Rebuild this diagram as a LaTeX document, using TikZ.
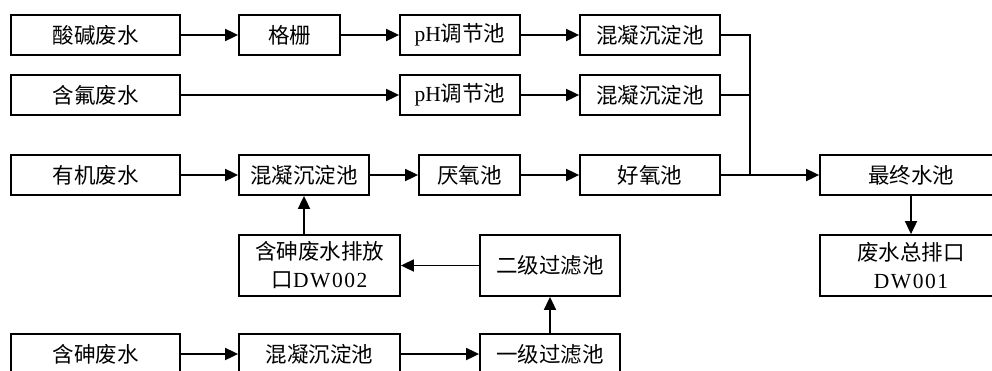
\documentclass[tikz,border=0pt]{standalone}
\usepackage{fontspec}
\setmainfont{Liberation Serif}
\newfontfamily\cjk{Noto Sans CJK SC}
\usetikzlibrary{arrows.meta}
\begin{document}
\begin{tikzpicture}[x=1pt,y=-1pt,
  box/.style={draw,line width=1.8pt,inner sep=0pt,align=center,font=\fontsize{21.5}{28}\selectfont},
  flow/.style={line width=1.8pt,-{Triangle[length=13pt,width=12pt]}},
  pipe/.style={line width=1.8pt}]
\useasboundingbox (0,0) rectangle (992,370);
\clip (0,0) rectangle (992,370);
% row 1
\node[box,minimum width=169pt,minimum height=40pt] (a1) at (95.5,35) {\cjk 酸碱废水};
\node[box,minimum width=101pt,minimum height=40pt] (a2) at (289.5,35) {\cjk 格栅};
\node[box,minimum width=120pt,minimum height=40pt] (a3) at (460,35) {pH{\cjk 调节池}};
\node[box,minimum width=140pt,minimum height=40pt] (a4) at (650,35) {\cjk 混凝沉淀池};
% row 2
\node[box,minimum width=169pt,minimum height=40pt] (b1) at (95.5,95) {\cjk 含氟废水};
\node[box,minimum width=120pt,minimum height=40pt] (b3) at (460,95) {pH{\cjk 调节池}};
\node[box,minimum width=140pt,minimum height=40pt] (b4) at (650,95) {\cjk 混凝沉淀池};
% row 3
\node[box,minimum width=169pt,minimum height=40pt] (c1) at (95.5,175) {\cjk 有机废水};
\node[box,minimum width=130pt,minimum height=40pt] (c2) at (304,175) {\cjk 混凝沉淀池};
\node[box,minimum width=101pt,minimum height=40pt] (c3) at (469.5,175) {\cjk 厌氧池};
\node[box,minimum width=140pt,minimum height=40pt] (c4) at (650,175) {\cjk 好氧池};
\node[box,minimum width=182pt,minimum height=40pt] (fin) at (911,175) {\cjk 最终水池};
% row 4
\node[box,minimum width=161pt,minimum height=61pt] (d2) at (319.5,265.5) {{\cjk 含砷废水排放}\\{\cjk 口}D\kern1.5pt W\kern1.5pt 0\kern1.5pt 0\kern1.5pt 2};
\node[box,minimum width=140pt,minimum height=61pt] (d3) at (550,265.5) {\cjk 二级过滤池};
\node[box,minimum width=182pt,minimum height=61pt] (out) at (911,265.5) {{\cjk 废水总排口}\\D\kern1.5pt W\kern1.5pt 0\kern1.5pt 0\kern1.5pt 1};
% row 5
\node[box,minimum width=169pt,minimum height=40pt] (e1) at (95.5,354) {\cjk 含砷废水};
\node[box,minimum width=161pt,minimum height=40pt] (e2) at (319.5,354) {\cjk 混凝沉淀池};
\node[box,minimum width=140pt,minimum height=40pt] (e3) at (550,354) {\cjk 一级过滤池};
% junction
\coordinate (j) at (750,175);
% connectors
\draw[flow] (a1) -- (a2);
\draw[flow] (a2) -- (a3);
\draw[flow] (a3) -- (a4);
\draw[flow] (b1) -- (b3);
\draw[flow] (b3) -- (b4);
\draw[flow] (c1) -- (c2);
\draw[flow] (c2) -- (c3);
\draw[flow] (c3) -- (c4);
\draw[pipe] (a4.east) -| (j);
\draw[pipe] (b4.east) -- (b4.east -| j);
\draw[flow] (c4) -- (fin);
\draw[flow] (fin) -- (out);
\draw[flow] (d2.north -| c2) -- (c2.south);
\draw[flow] (d3) -- (d2);
\draw[flow] (e1) -- (e2);
\draw[flow] (e2) -- (e3);
\draw[flow] (e3) -- (d3);
\end{tikzpicture}
\end{document}
